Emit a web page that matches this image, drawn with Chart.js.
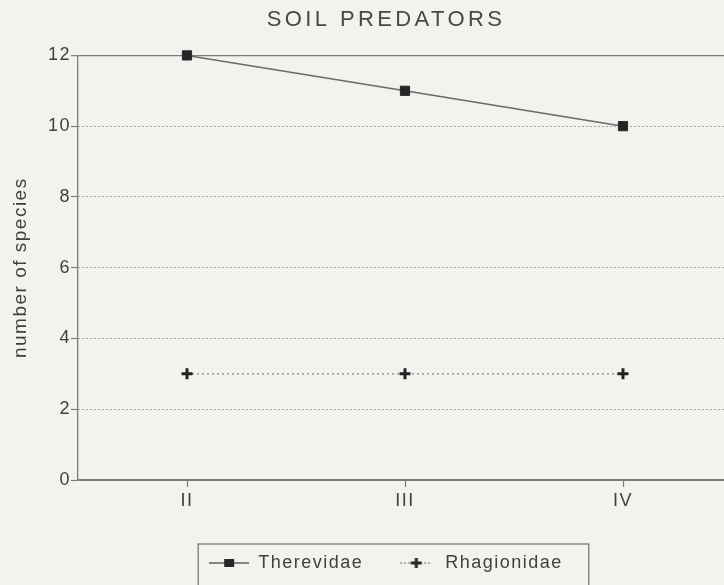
<!DOCTYPE html>
<html>
<head>
<meta charset="utf-8">
<title>Soil predators</title>
<script src="https://cdn.jsdelivr.net/npm/chart.js@4"></script>
<style>
  html, body { margin: 0; padding: 0; overflow: hidden; background: #f3f2ee; }
  #wrap { position: absolute; left: 0; top: 0; width: 772px; height: 585px; }
</style>
</head>
<body>
<div id="wrap"><canvas id="predatorsChart" width="772" height="585"></canvas></div>
<script>
// sampling periods and species counts
const periods = ['II', 'III', 'IV'];
const therevidae = [12, 11, 10];
const rhagionidae = [3, 3, 3];

const FONT = "'Liberation Sans', Arial, Helvetica, sans-serif";
const AXIS = '#7d7d7b';
const TEXT = '#404040';

// little line+marker swatches for the legend
function makeIcon(kind) {
    const c = document.createElement('canvas');
    c.width = 40; c.height = 14;
    const g = c.getContext('2d');
    g.strokeStyle = kind === 'rect' ? '#5e5e5e' : '#7a7a7a';
    g.lineWidth = 1.5;
    g.beginPath();
    if (kind === 'rect') {
        g.moveTo(0, 7); g.lineTo(40, 7);
    } else {
        g.setLineDash([1.5, 2.5]);
        g.moveTo(4, 7); g.lineTo(36, 7);
    }
    g.stroke();
    g.fillStyle = '#262626';
    if (kind === 'rect') {
        g.fillRect(15, 3, 10, 8);
    } else {
        g.fillRect(14.5, 5.5, 11, 3);
        g.fillRect(18.5, 2, 3, 10);
    }
    return c;
}
const icons = [makeIcon('rect'), makeIcon('cross')];

// wider glyph spacing, the title gets a bit more
const letterSpacing = {
    id: 'letterSpacing',
    beforeUpdate(chart) { chart.ctx.letterSpacing = '1.5px'; },
    beforeDraw(chart) {
        chart.ctx.letterSpacing = '1.5px';
        const tb = chart.titleBlock;
        if (tb && !tb._wide) {
            const draw = tb.draw.bind(tb);
            tb.draw = (area) => {
                chart.ctx.save();
                chart.ctx.letterSpacing = '3.4px';
                draw(area);
                chart.ctx.restore();
            };
            tb._wide = true;
        }
    }
};

// frame round the legend entries
const legendFrame = {
    id: 'legendFrame',
    afterDraw(chart) {
        const boxes = chart.legend && chart.legend.legendHitBoxes;
        if (!boxes || !boxes.length) return;
        const first = boxes[0], last = boxes[boxes.length - 1];
        const mid = first.top + first.height / 2;
        const ctx = chart.ctx;
        ctx.save();
        ctx.strokeStyle = '#6f6f6d';
        ctx.lineWidth = 1.2;
        ctx.strokeRect(first.left - 11, mid - 19, last.left + last.width - first.left + 37, 60);
        ctx.restore();
    }
};

const ctx = document.getElementById('predatorsChart').getContext('2d');
new Chart(ctx, {
    type: 'line',
    data: {
        labels: periods,
        datasets: [{
            label: 'Therevidae',
            data: therevidae,
            borderColor: '#6a6a6a',
            borderWidth: 1.5,
            pointStyle: 'rect',
            pointRadius: 6.5,
            pointBackgroundColor: '#262626',
            pointBorderColor: '#262626',
            pointBorderWidth: 1,
            clip: false
        }, {
            label: 'Rhagionidae',
            data: rhagionidae,
            borderColor: '#858585',
            borderWidth: 1.3,
            borderDash: [2, 3],
            pointStyle: 'cross',
            pointRadius: 5.5,
            pointBorderWidth: 3,
            pointBorderColor: '#222',
            clip: false
        }]
    },
    options: {
        responsive: false,
        animation: false,
        layout: { padding: { bottom: 3 } },
        plugins: {
            title: {
                display: true,
                text: 'SOIL PREDATORS',
                color: '#484848',
                font: { family: FONT, size: 22, weight: 'normal' },
                padding: { top: 7, bottom: 22 }
            },
            legend: {
                position: 'bottom',
                labels: {
                    usePointStyle: true,
                    pointStyleWidth: 40,
                    padding: 33,
                    color: TEXT,
                    font: { family: FONT, size: 18 },
                    generateLabels(chart) {
                        const items = Chart.defaults.plugins.legend.labels.generateLabels(chart);
                        items.forEach((it, i) => { it.pointStyle = icons[i]; });
                        return items;
                    }
                }
            },
            tooltip: { enabled: false }
        },
        scales: {
            x: {
                type: 'category',
                offset: true,
                grid: {
                    drawOnChartArea: false,
                    drawTicks: true,
                    tickLength: 7,
                    tickColor: AXIS,
                    tickWidth: 1.2
                },
                border: { display: true, color: AXIS, width: 1.3 },
                ticks: { color: TEXT, padding: 3, font: { family: FONT, size: 18 } },
                afterFit(scale) { scale.height = 41; }
            },
            y: {
                min: 0,
                max: 12,
                ticks: { stepSize: 2, color: TEXT, padding: 0, font: { family: FONT, size: 18 } },
                grid: {
                    color: (c) => (c.tick && (c.tick.value === 12 || c.tick.value === 0)) ? AXIS : '#8e8e8c',
                    lineWidth: (c) => (c.tick && c.tick.value === 12) ? 1.3 : 1,
                    tickLength: 7,
                    tickColor: AXIS,
                    tickWidth: 1.2,
                    tickBorderDash: []
                },
                border: {
                    display: true,
                    color: AXIS,
                    width: 1.3,
                    dash: (c) => (c.tick && c.tick.value !== 12 && c.tick.value !== 0) ? [1.5, 2.5] : []
                },
                title: {
                    display: true,
                    text: 'number of species',
                    color: TEXT,
                    font: { family: FONT, size: 19 },
                    padding: { top: 9, bottom: 0 }
                },
                afterFit(scale) { scale.width = 78; }
            },
            // empty axis on the right keeps the plot clear of the centred title and legend
            spacer: {
                type: 'linear',
                position: 'right',
                display: true,
                grid: { display: false },
                border: { display: false },
                ticks: { display: false },
                afterFit(scale) { scale.width = 40; }
            }
        }
    },
    plugins: [letterSpacing, legendFrame]
});
</script>
</body>
</html>
